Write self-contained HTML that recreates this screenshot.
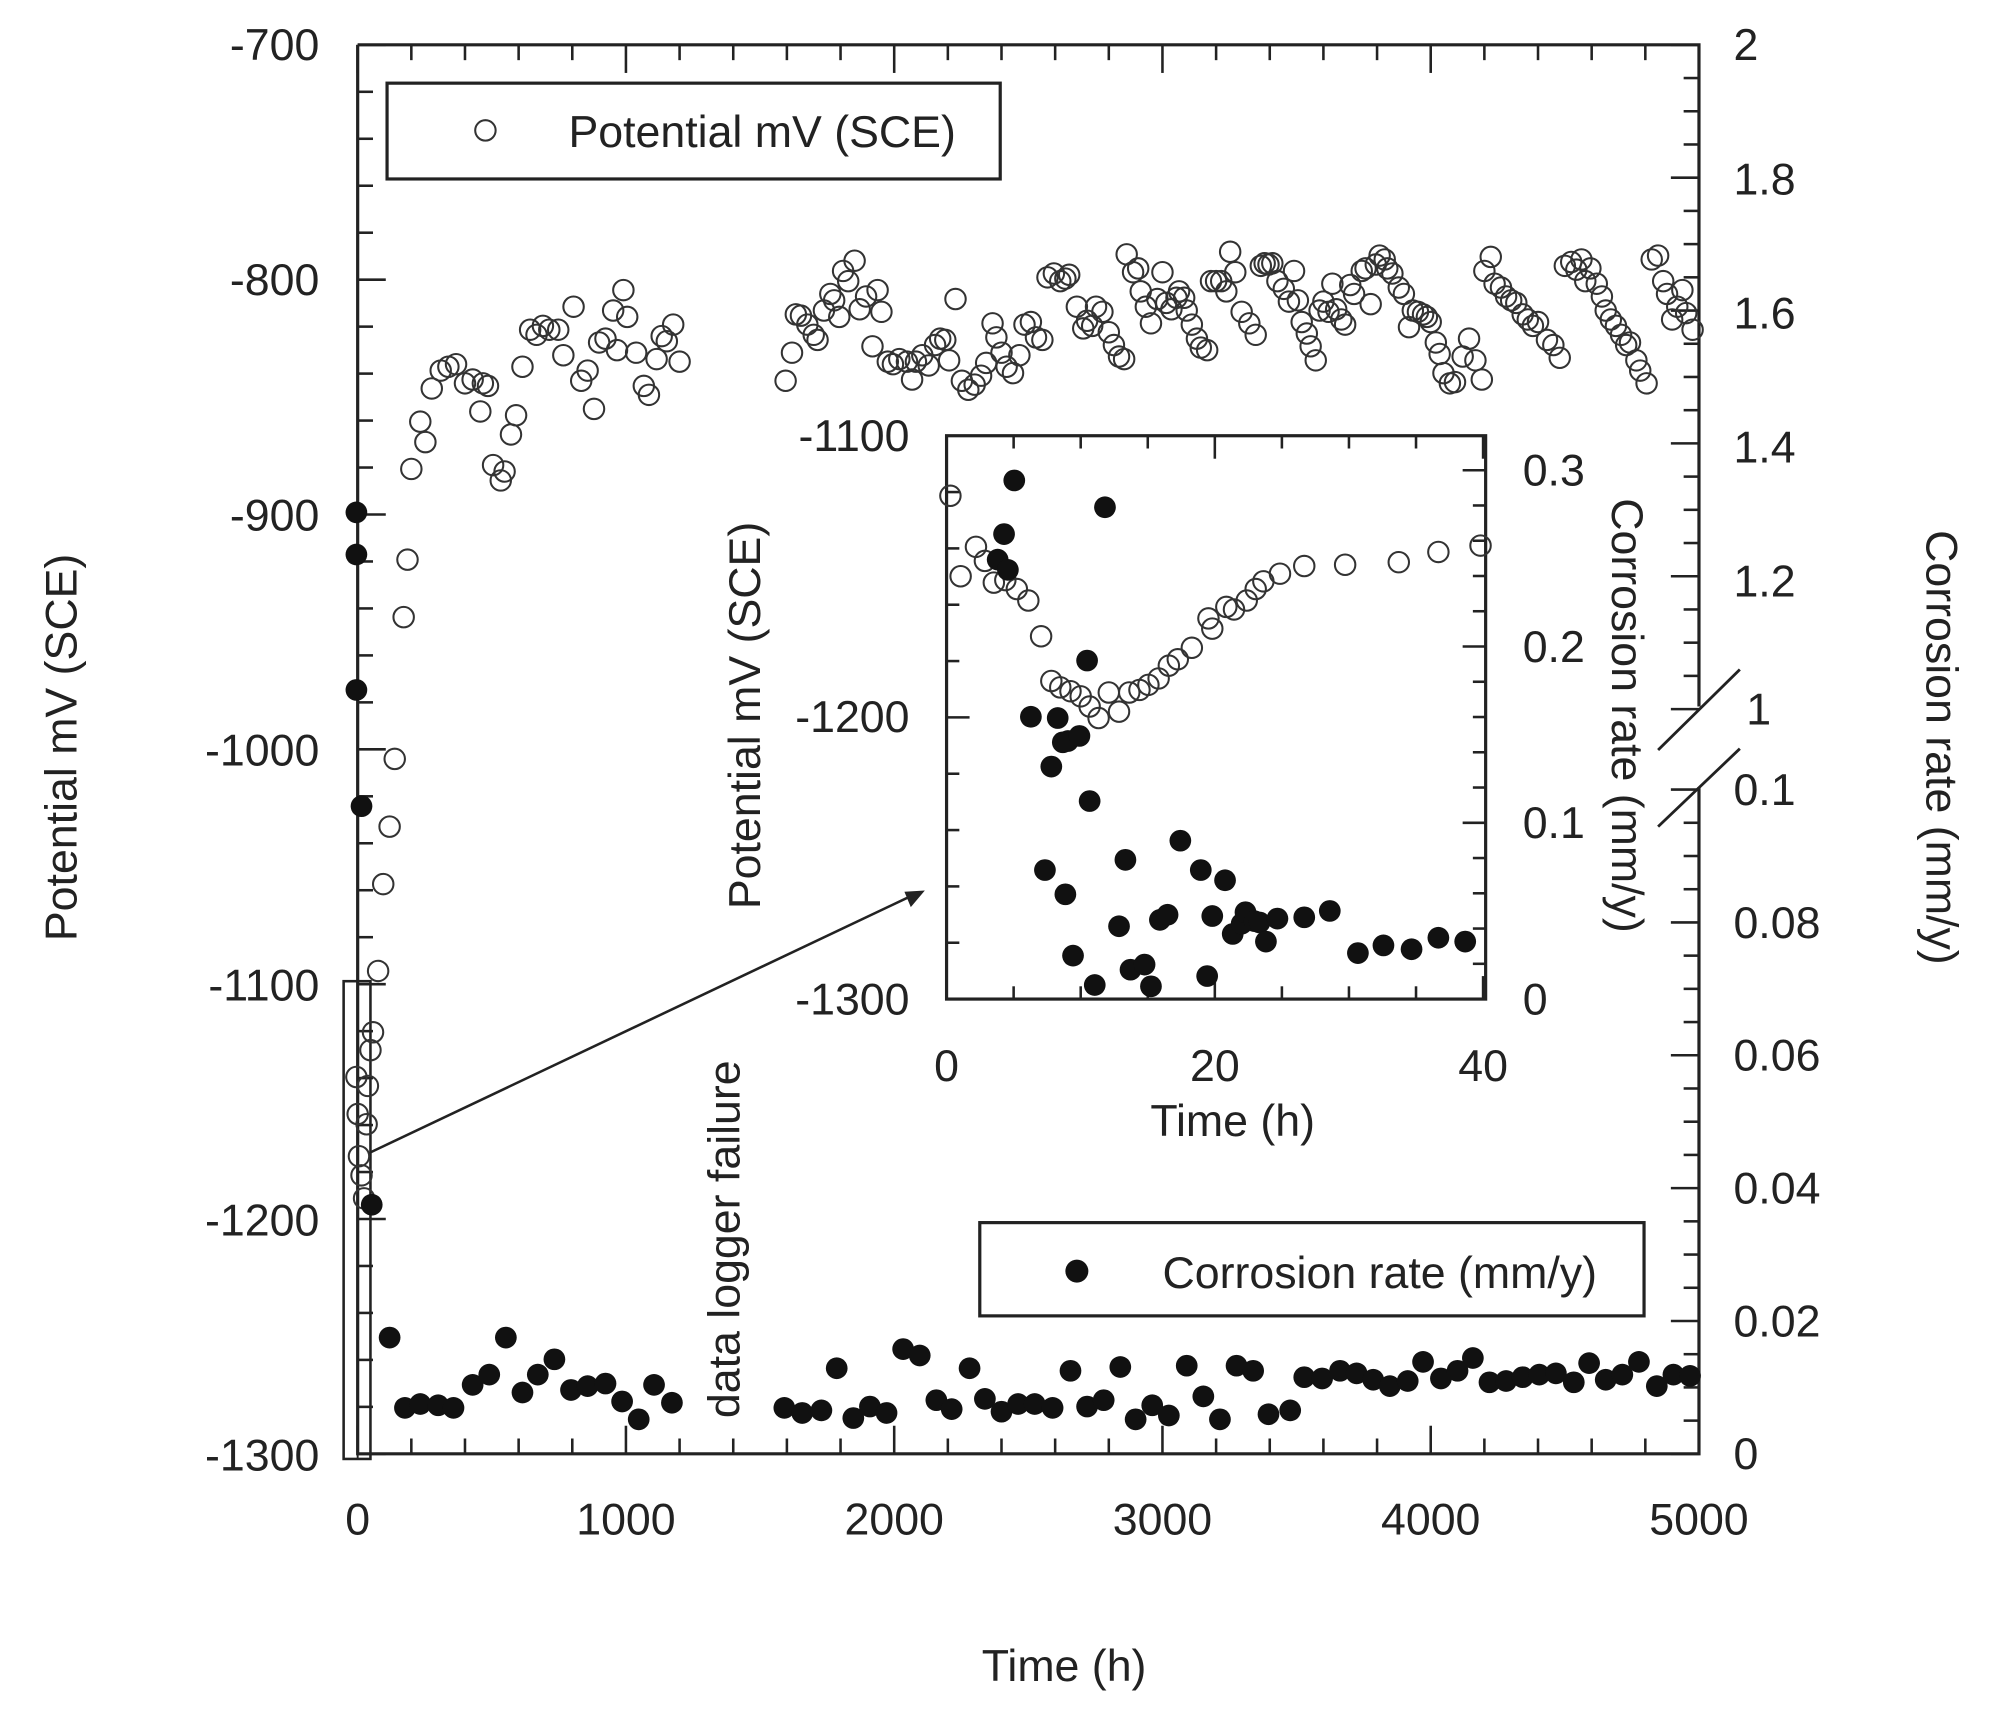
<!DOCTYPE html>
<html><head><style>body{margin:0;background:#fff}svg{display:block}text{font-family:"Liberation Sans",sans-serif;fill:#222}</style></head><body>
<svg id="s" width="2003" height="1712" viewBox="0 0 1568 1340" xmlns="http://www.w3.org/2000/svg">
<g stroke="#222" stroke-width="2.5" fill="none">
<path d="M280,35 V1138 H1330 V616 M1330,553 V35 H280"/>
<path d="M1298,587 L1362,524 M1298,647 L1362,586" stroke-width="2.2"/>
<rect x="303" y="65" width="480" height="75"/>
<rect x="767" y="957" width="520" height="73"/>
<rect x="269" y="768" width="21" height="374" stroke-width="2"/>
<line x1="280" y1="768" x2="280" y2="1142" stroke-width="1.5"/>
<line x1="290" y1="902" x2="716" y2="700" stroke-width="2"/>
<rect x="741" y="341" width="422" height="441"/>
</g>
<polygon points="724,697 708,698 713,710" fill="#222"/>
<g id="ticks" stroke="#222" stroke-width="2"></g>
<g font-size="35" text-anchor="end">
<text x="250" y="47">-700</text><text x="250" y="231">-800</text><text x="250" y="415">-900</text><text x="250" y="599">-1000</text><text x="250" y="783">-1100</text><text x="250" y="967">-1200</text><text x="250" y="1151">-1300</text>
</g>
<g font-size="35" text-anchor="start">
<text x="1357" y="47">2</text><text x="1357" y="152">1.8</text><text x="1357" y="257">1.6</text><text x="1357" y="362">1.4</text><text x="1357" y="467">1.2</text><text x="1367" y="567">1</text>
<text x="1357" y="630">0.1</text><text x="1357" y="734">0.08</text><text x="1357" y="838">0.06</text><text x="1357" y="942">0.04</text><text x="1357" y="1046">0.02</text><text x="1357" y="1150">0</text>
</g>
<g font-size="35" text-anchor="middle">
<text x="280" y="1201">0</text><text x="490" y="1201">1000</text><text x="700" y="1201">2000</text><text x="910" y="1201">3000</text><text x="1120" y="1201">4000</text><text x="1330" y="1201">5000</text>
<text x="833" y="1316">Time (h)</text>
<text x="741" y="846">0</text><text x="951" y="846">20</text><text x="1161" y="846">40</text>
<text x="965" y="889">Time (h)</text>
<text transform="translate(60,585) rotate(-90)">Potential mV (SCE)</text>
<text transform="translate(1508,585) rotate(90)">Corrosion rate (mm/y)</text>
<text transform="translate(595,560) rotate(-90)">Potential mV (SCE)</text>
<text transform="translate(1262,560) rotate(90)">Corrosion rate (mm/y)</text>
<text transform="translate(579,970) rotate(-90)">data logger failure</text>
</g>
<g font-size="35" text-anchor="end">
<text x="712" y="353">-1100</text><text x="712" y="573">-1200</text><text x="712" y="794">-1300</text>
</g>
<g font-size="35"><text x="1192" y="380">0.3</text><text x="1192" y="518">0.2</text><text x="1192" y="656">0.1</text><text x="1192" y="794">0</text>
<text x="445" y="115">Potential mV (SCE)</text><text x="910" y="1008">Corrosion rate (mm/y)</text></g>
<circle cx="380" cy="102" r="8" fill="none" stroke="#333" stroke-width="1.6"/>
<circle cx="843" cy="995" r="9" fill="#111"/>
<g id="pts"></g>
</svg>
<script>
var NS="http://www.w3.org/2000/svg",T=document.getElementById("ticks"),P=document.getElementById("pts");
function L(a,b,c,d){var l=document.createElementNS(NS,"line");l.setAttribute("x1",a);l.setAttribute("y1",b);l.setAttribute("x2",c);l.setAttribute("y2",d);T.appendChild(l);}
for(var i=0;i<=30;i++){var y=35+i*1103/30,m=i%5==0?22:12;L(280,y,280+m,y);}
for(i=0;i<=25;i++){var x=280+i*42,m=i%5==0?22:12;L(x,35,x,35+m);L(x,1138,x,1138-m);}
for(i=0;i<=20;i++){var y=35+i*26;if(y>560)break;var m=i%4==0?22:12;L(1330,y,1330-m,y);}
for(i=0;i<=20;i++){var y=1138-i*26;var m=i%4==0?22:12;L(1330,y,1330-m,y);}
for(i=0;i<=10;i++){var y=341+i*44.1,m=i%5==0?18:10;L(741,y,741+m,y);}
for(i=0;i<=8;i++){var x=741+i*52.5,m=i%4==0?18:10;L(x,782,x,782-m);L(x,341,x,341+m);}
for(i=0;i<=16;i++){var y=782-i*27.6;if(y<341)break;var m=i%5==0?18:10;L(1163,y,1163-m,y);}
function C(a,f){for(var k=0;k<a.length;k+=2){var c=document.createElementNS(NS,"circle");c.setAttribute("cx",a[k]);c.setAttribute("cy",a[k+1]);if(f){c.setAttribute("r",8.5);c.setAttribute("fill","#111");}else{c.setAttribute("r",8);c.setAttribute("fill","none");c.setAttribute("stroke","#333");c.setAttribute("stroke-width","1.6");}P.appendChild(c);}}
C([279,843,280,872,281,905,283,920,285,938,287,880,288,850,290,822,292,808,296,760,300,692,305,647,309,594,316,483,319,438,322,367,329,330,333,346,338,304,345,290,351,287,357,285,364,300,370,297,376,322,378,300,382,302,386,364,392,376,395,369,400,340,404,325,409,287,415,258,420,262,425,255,430,258,437,258,441,278,449,240,455,298,460,290,465,320,469,268,474,265,480,243,483,274,488,227,491,248,498,276,504,302,508,309,514,281,518,263,522,267,527,254,532,283,
615,298,620,276,623,246,627,247,632,254,637,262,640,266,645,243,650,230,653,235,657,248,660,212,664,220,669,204,673,242,678,232,683,271,687,227,690,244,695,283,699,285,704,281,710,283,714,297,717,283,722,278,727,286,732,270,736,265,740,266,743,282,748,234,753,298,758,305,763,301,768,294,772,284,777,253,780,264,784,276,788,287,793,292,798,278,802,254,807,252,811,264,816,266,820,217,825,214,830,220,834,218,837,215,843,240,848,257,851,251,855,255,858,240,863,244,868,260,872,270,876,279,880,281,882,199,887,213,891,210,893,228,897,240,901,253,906,234,910,213,913,237,917,242,921,233,923,228,927,233,929,243,933,254,937,265,940,272,945,274,948,220,952,220,956,220,960,228,963,197,967,213,972,244,978,253,983,262,987,208,990,206,993,207,996,206,1000,220,1005,226,1009,236,1013,212,1016,235,1019,252,1023,261,1026,271,1030,282,1033,243,1036,236,1040,244,1043,222,1046,242,1050,250,1053,254,1057,223,1060,230,1066,212,1069,210,1073,238,1077,207,1080,200,1084,203,1086,210,1090,214,1095,225,1099,230,1103,256,1106,243,1110,244,1114,246,1117,248,1120,252,1124,268,1127,277,1130,292,1135,300,1139,299,1145,279,1150,265,1155,282,1160,297,1162,212,1167,201,1170,222,1175,225,1179,232,1183,235,1187,237,1192,246,1196,250,1200,255,1204,252,1211,266,1216,270,1221,280,1225,208,1230,205,1234,211,1238,203,1241,220,1245,210,1250,222,1254,232,1257,243,1261,250,1265,255,1269,262,1273,270,1276,268,1281,282,1284,290,1289,300,1293,203,1298,200,1302,220,1305,230,1309,250,1313,240,1317,227,1320,245,1325,258,
744,388,752,451,764,428,771,439,778,456,787,454,796,461,805,470,815,498,823,533,830,538,838,541,846,545,853,553,860,562,868,542,876,557,884,542,892,540,899,536,907,531,915,521,922,516,933,507,946,484,949,492,960,475,966,477,976,470,983,461,989,455,1002,449,1021,443,1053,442,1095,440,1126,432,1159,427],false);
C([279,401,279,434,279,540,283,631,291,943,305,1047,317,1102,329,1099,343,1100,355,1102,370,1084,383,1076,396,1047,409,1090,421,1076,434,1064,447,1088,460,1085,474,1083,487,1097,500,1111,512,1084,526,1098,
614,1102,628,1106,643,1104,655,1071,668,1110,681,1101,694,1106,707,1056,720,1061,733,1096,745,1103,759,1071,771,1095,784,1105,797,1099,810,1099,824,1102,838,1073,851,1101,864,1096,877,1070,889,1111,902,1100,915,1108,929,1069,942,1093,955,1111,968,1069,981,1073,993,1107,1010,1104,1021,1078,1035,1079,1049,1073,1062,1075,1075,1080,1088,1085,1102,1081,1114,1066,1128,1079,1141,1073,1153,1063,1166,1082,1179,1081,1192,1078,1205,1076,1218,1075,1232,1082,1244,1067,1257,1080,1270,1076,1283,1066,1297,1085,1310,1076,1323,1077,
781,438,786,418,789,446,794,376,807,561,823,600,828,562,832,581,836,580,845,576,851,517,853,627,818,681,834,700,840,748,857,771,865,397,876,725,881,673,885,759,896,755,901,772,908,720,914,716,924,658,940,681,945,764,949,717,959,689,965,731,972,723,975,714,982,721,986,722,991,737,1000,719,1021,718,1041,713,1063,746,1083,740,1105,743,1126,734,1147,737],true);
</script>
</body></html>
